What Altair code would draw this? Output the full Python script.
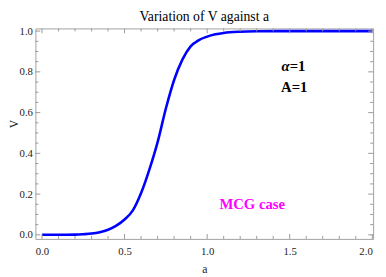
import altair as alt
import pandas as pd

# curve
a_vals = [0.0, 0.1, 0.2, 0.25, 0.3, 0.35, 0.4, 0.45, 0.5, 0.55, 0.6, 0.65, 0.7,
          0.75, 0.8, 0.85, 0.9, 0.95, 1.0, 1.05, 1.1, 1.2, 1.3, 1.5, 1.75, 2.0]
V_vals = [0.0, 0.0, 0.001, 0.003, 0.006, 0.013, 0.025, 0.045, 0.075, 0.12, 0.205, 0.32, 0.455,
          0.62, 0.76, 0.86, 0.925, 0.956, 0.973, 0.984, 0.991, 0.997, 0.999, 1.0, 1.0, 1.0]

x_major = [0.0, 0.5, 1.0, 1.5, 2.0]
x_minor = [0.1, 0.2, 0.3, 0.4, 0.6, 0.7, 0.8, 0.9, 1.1, 1.2, 1.3, 1.4, 1.6, 1.7, 1.8, 1.9]
y_major = [0.0, 0.2, 0.4, 0.6, 0.8, 1.0]
y_minor = [0.05, 0.1, 0.15, 0.25, 0.3, 0.35, 0.45, 0.5, 0.55, 0.65, 0.7, 0.75, 0.85, 0.9, 0.95]

# annotations
ann_alpha = {"a": [1.50], "V": [0.83], "t": ["α"]}
ann_alpha_eq = {"a": [1.50], "V": [0.83], "t": ["=1"]}
ann_A = {"a": [1.527], "V": [0.725], "t": ["A=1"]}
ann_mcg = {"a": [1.273], "V": [0.149], "t": ["MCG case"]}

W, H = 345, 215
FONT = "Liberation Serif"
TICK = "#999999"

xs = alt.Scale(domain=[-0.04, 2.005], nice=False, zero=False)
ys = alt.Scale(domain=[-0.02, 1.013], nice=False, zero=False)

df = pd.DataFrame({"a": a_vals, "V": V_vals})

xaxis = alt.Axis(values=x_major, format=".1f", tickSize=0, domain=False, grid=False,
                 labelFont=FONT, labelFontSize=11, labelColor="#222", labelPadding=7,
                 title="a", titleFont=FONT, titleFontSize=12, titleFontWeight="normal",
                 titleColor="#222", titleY=34, titleBaseline="alphabetic")
yaxis = alt.Axis(values=y_major, format=".1f", tickSize=0, domain=False, grid=False,
                 labelFont=FONT, labelFontSize=11, labelColor="#222", labelPadding=3,
                 title="V", titleFont=FONT, titleFontSize=12, titleFontWeight="normal",
                 titleColor="#222", titleX=-18, titleY=97, titleBaseline="alphabetic",
                 titleAlign="center")

line = alt.Chart(df).mark_line(color="#0000ff", strokeWidth=2.6, interpolate="monotone").encode(
    x=alt.X("a:Q", scale=xs, axis=xaxis),
    y=alt.Y("V:Q", scale=ys, axis=yaxis),
)


def xticks(vals, length):
    d = pd.DataFrame({"t": vals})
    bot = alt.Chart(d).mark_rule(color=TICK, strokeWidth=1).encode(
        x=alt.X("t:Q", scale=xs, axis=xaxis), y=alt.value(H), y2=alt.value(H - length))
    top = alt.Chart(d).mark_rule(color=TICK, strokeWidth=1).encode(
        x=alt.X("t:Q", scale=xs, axis=xaxis), y=alt.value(0), y2=alt.value(length))
    return [bot, top]


def yticks(vals, length):
    d = pd.DataFrame({"t": vals})
    left = alt.Chart(d).mark_rule(color=TICK, strokeWidth=1).encode(
        y=alt.Y("t:Q", scale=ys, axis=yaxis), x=alt.value(0), x2=alt.value(length))
    right = alt.Chart(d).mark_rule(color=TICK, strokeWidth=1).encode(
        y=alt.Y("t:Q", scale=ys, axis=yaxis), x=alt.value(W), x2=alt.value(W - length))
    return [left, right]


def text(ann, align, color="black", style="normal", size=15):
    return alt.Chart(pd.DataFrame(ann)).mark_text(
        font=FONT, fontSize=size, fontWeight="bold", fontStyle=style, color=color,
        align=align, baseline="middle").encode(
        x=alt.X("a:Q", scale=xs, axis=xaxis), y=alt.Y("V:Q", scale=ys, axis=yaxis), text="t:N")


layers = ([line] + xticks(x_major, 5) + xticks(x_minor, 3) + yticks(y_major, 5) + yticks(y_minor, 3)
          + [text(ann_alpha, "right", style="italic"),
             text(ann_alpha_eq, "left"),
             text(ann_A, "center"),
             text(ann_mcg, "center", color="#ff00ff")])

chart = alt.layer(*layers).properties(
    width=W, height=H,
    title=alt.TitleParams("Variation of V against a", font=FONT, fontSize=14,
                          fontWeight="normal", color="black", anchor="middle", offset=5,
                          baseline="alphabetic", dy=15),
    autosize=alt.AutoSizeParams(type="none"),
    padding={"left": 28, "top": 18, "right": 5, "bottom": 35},
).configure_view(stroke="#a0a0a0", strokeWidth=1)

chart.save("out.html", embed_options={"renderer": "svg", "actions": False})
